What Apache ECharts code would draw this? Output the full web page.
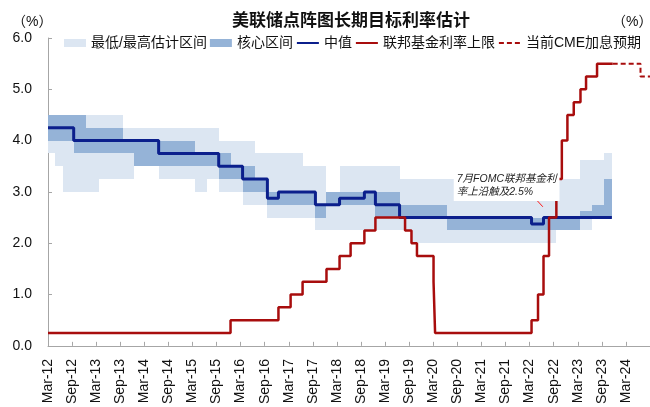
<!DOCTYPE html>
<html><head><meta charset="utf-8">
<script src="https://cdn.jsdelivr.net/npm/echarts@6/dist/echarts.min.js"></script>
<style>html,body{margin:0;padding:0;background:#fff}#c{width:650px;height:407px}</style>
</head><body><div id="c"></div>
<script>
// ---------- data ----------
const tickLabels = ['Mar-12','Sep-12','Mar-13','Sep-13','Mar-14','Sep-14','Mar-15','Sep-15','Mar-16','Sep-16','Mar-17','Sep-17','Mar-18','Sep-18','Mar-19','Sep-19','Mar-20','Sep-20','Mar-21','Sep-21','Mar-22','Sep-22','Mar-23','Sep-23','Mar-24'];
const axisEnd = '2024-09-01';

// Median of longer-run dots (value held from each date until the next)
const medianDates  = ['2012-03-01','2012-09-13','2014-06-18','2015-09-17','2016-03-16','2016-09-21','2016-12-14','2017-09-20','2018-03-21','2018-09-26','2018-12-19','2019-06-19','2022-03-16','2022-06-15','2023-11-16'];
const medianValues = [4.25, 4.0, 3.75, 3.5, 3.25, 2.875, 3.0, 2.75, 2.875, 3.0, 2.75, 2.5, 2.375, 2.5, 2.5];

// Fed funds target upper limit
const fedDates  = ['2012-03-01','2015-12-16','2016-12-14','2017-03-15','2017-06-14','2017-12-13','2018-03-21','2018-06-13','2018-09-26','2018-12-19','2019-07-31','2019-09-18','2019-10-30','2020-03-03','2020-03-15','2022-03-16','2022-05-04','2022-06-15','2022-07-27','2022-09-21','2022-11-02','2022-12-14','2023-02-01','2023-03-22','2023-05-03','2023-07-26','2023-11-22'];
const fedValues = [0.25, 0.5, 0.75, 1.0, 1.25, 1.5, 1.75, 2.0, 2.25, 2.5, 2.25, 2.0, 1.75, 1.25, 0.25, 0.5, 1.0, 1.75, 2.5, 3.25, 4.0, 4.5, 4.75, 5.0, 5.25, 5.5, 5.5];

// Current CME expectation
const cmeDates  = ['2023-11-22','2024-06-20','2024-09-01'];
const cmeValues = [5.5, 5.25, 5.25];

// Min / max estimate range (segment starts; each lasts until the next start)
const rangeStarts = ['2012-03-01','2012-04-25','2012-06-20','2013-03-20','2013-09-18','2013-12-18','2014-06-18','2015-03-18','2015-06-17','2015-09-17','2016-03-16','2016-06-15','2016-09-21','2017-06-14','2017-09-20','2017-12-13','2018-03-21','2019-06-19','2019-09-18','2022-09-21','2023-03-22','2023-06-14','2023-09-20'];
const rangeLow    = [3.75, 3.5, 3.0, 3.25, 3.25, 3.5, 3.25, 3.0, 3.25, 3.0, 2.75, 2.75, 2.5, 2.5, 2.25, 2.25, 2.25, 2.25, 2.0, 2.25, 2.25, 2.5, 2.5];
const rangeHigh   = [4.5, 4.5, 4.5, 4.5, 4.25, 4.25, 4.25, 4.25, 4.25, 4.0, 4.0, 3.75, 3.75, 3.5, 3.5, 3.0, 3.5, 3.25, 3.25, 3.25, 3.625, 3.625, 3.75];

// Central (core) range
const coreStarts = ['2012-03-01','2012-09-13','2012-12-12','2013-09-18','2013-12-18','2015-03-18','2015-09-17','2015-12-16','2016-03-16','2016-06-15','2016-09-21','2017-09-20','2017-12-13','2018-12-19','2019-06-19','2020-06-10','2023-03-22','2023-06-14','2023-09-20'];
const coreLow    = [4.0, 3.75, 3.75, 3.75, 3.5, 3.5, 3.25, 3.25, 3.0, 3.0, 2.75, 2.5, 2.75, 2.5, 2.5, 2.25, 2.5, 2.5, 2.5];
const coreHigh   = [4.5, 4.5, 4.25, 4.0, 4.0, 3.75, 3.75, 3.5, 3.5, 3.25, 3.0, 2.75, 3.0, 3.0, 2.75, 2.5, 2.625, 2.75, 3.25];
const bandEnd = '2023-11-16';

const annotationText = '7月FOMC联邦基金利\n率上沿触及2.5%';
const annotationAt = ['2020-08-04', 3.41];
const arrowFrom = ['2022-04-10', 2.88];
const arrowTo   = ['2022-06-10', 2.71];

// ---------- helpers ----------
function mi(s){
  const [y,m,d] = s.split('-').map(Number);
  const dim = new Date(y, m, 0).getDate();
  return (y-2012)*12 + (m-3) + (d-1)/dim;
}
const LIGHT = '#dce6f2', CORE = '#95b3d7', NAVY = '#0b1f8c', RED = '#a80d0d';
const FONT = '"Liberation Sans", "Noto Sans CJK SC", sans-serif';

function bandSeries(name, starts, lows, highs, color){
  const data = starts.map((s,i)=>[mi(s), mi(i+1<starts.length ? starts[i+1] : bandEnd), lows[i], highs[i]]);
  return {
    name, type:'custom', data, itemStyle:{color}, silent:true, animation:false,
    encode:{x:[0,1], y:[2,3]},
    renderItem(params, api){
      const a = api.coord([api.value(0), api.value(3)]);
      const b = api.coord([api.value(1), api.value(2)]);
      const x0 = Math.round(a[0]), x1 = Math.round(b[0]), y0 = Math.round(a[1]), y1 = Math.round(b[1]);
      return {type:'rect', shape:{x:x0, y:y0, width:x1-x0, height:y1-y0}, style:{fill:color}};
    }
  };
}
const pts = (ds, vs) => ds.map((d,i)=>[mi(d), vs[i]]);
const noDot = {opacity:0};

const chart = echarts.init(document.getElementById('c'), null, {renderer:'canvas'});
chart.setOption({
  animation:false,
  backgroundColor:'#fff',
  title:{text:'美联储点阵图长期目标利率估计', left:232, top:13, padding:0,
    textStyle:{fontFamily:FONT, fontSize:17, fontWeight:'bold', color:'#111'}},
  legend:{
    left:64, top:36, width:640, padding:0, itemWidth:22, itemHeight:8, itemGap:3,
    textStyle:{fontFamily:FONT, fontSize:14, color:'#111'},
    data:[
      {name:'最低/最高估计区间', icon:'rect'},
      {name:'核心区间', icon:'rect'},
      {name:'中值', itemStyle:noDot},
      {name:'联邦基金利率上限', itemStyle:noDot},
      {name:'当前CME加息预期', itemStyle:noDot}
    ]
  },
  graphic:[
    {type:'text', left:12, top:15, style:{text:'（%）', font:'14px '+FONT, fill:'#111'}},
    {type:'text', left:612, top:15, style:{text:'（%）', font:'14px '+FONT, fill:'#111'}}
  ],
  grid:{left:48, right:0, top:38, bottom:61, containLabel:false},
  xAxis:{
    type:'value', min:0, max:mi(axisEnd), interval:6,
    axisLine:{lineStyle:{color:'#a6a6a6', width:1}},
    axisTick:{inside:true, length:4, lineStyle:{color:'#a6a6a6'}},
    splitLine:{show:false},
    axisLabel:{rotate:90, margin:13, fontFamily:FONT, fontSize:14, color:'#111',
      showMaxLabel:false,
      formatter:v => (v % 6 === 0 && tickLabels[v/6]) ? tickLabels[v/6] : ''}
  },
  yAxis:{
    type:'value', min:0, max:6, interval:1,
    axisLine:{show:true, lineStyle:{color:'#a6a6a6', width:1}},
    axisTick:{show:true, inside:true, length:4, lineStyle:{color:'#a6a6a6'}},
    splitLine:{show:false},
    axisLabel:{margin:16, fontFamily:FONT, fontSize:14, color:'#111', formatter:v=>v.toFixed(1)}
  },
  series:[
    bandSeries('最低/最高估计区间', rangeStarts, rangeLow, rangeHigh, LIGHT),
    bandSeries('核心区间', coreStarts, coreLow, coreHigh, CORE),
    {
      name:'中值', type:'line', step:'end', symbol:'none', data:pts(medianDates, medianValues),
      lineStyle:{color:NAVY, width:3}, itemStyle:{color:NAVY}, z:3,
      markPoint:{
        symbol:'circle', symbolSize:0, silent:true,
        data:[{coord:[mi(annotationAt[0]), annotationAt[1]],
          label:{show:true, position:'inside', align:'left', verticalAlign:'top',
            formatter:annotationText, fontFamily:FONT, fontSize:10.5, fontStyle:'italic',
            color:'#222', lineHeight:13, backgroundColor:'#fff', padding:[2,3]}}]
      },
      markLine:{
        silent:true, symbol:['none','arrow'], symbolSize:[0,5],
        label:{show:false},
        lineStyle:{color:'#ff1a1a', width:1, type:'solid'},
        data:[[{coord:[mi(arrowFrom[0]), arrowFrom[1]]}, {coord:[mi(arrowTo[0]), arrowTo[1]]}]]
      }
    },
    {
      name:'联邦基金利率上限', type:'line', step:'end', symbol:'none', data:pts(fedDates, fedValues),
      lineStyle:{color:RED, width:2.5}, itemStyle:{color:RED}, z:4
    },
    {
      name:'当前CME加息预期', type:'line', step:'end', symbol:'none', data:pts(cmeDates, cmeValues),
      lineStyle:{color:RED, width:2, type:[5,3]}, itemStyle:{color:RED}, z:4
    }
  ]
});
</script></body></html>
